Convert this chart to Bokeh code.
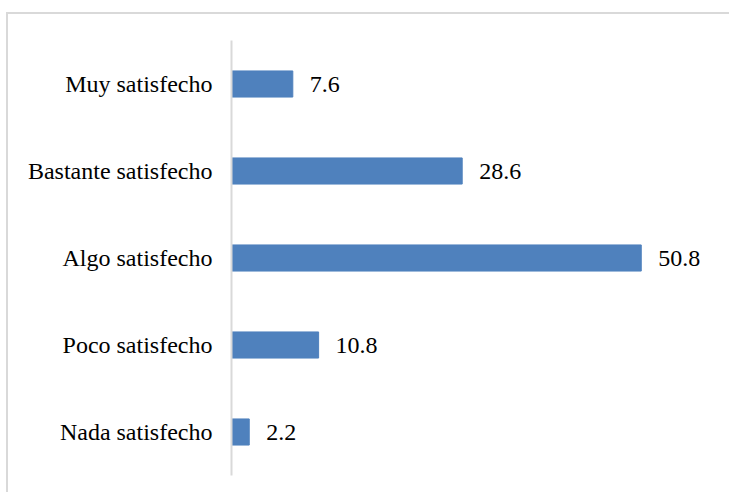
from bokeh.plotting import figure
from bokeh.models import ColumnDataSource, Range1d, FactorRange
from bokeh.core.properties import value
from bokeh.embed import file_html
from bokeh.resources import INLINE

categories = ["Muy satisfecho", "Bastante satisfecho", "Algo satisfecho", "Poco satisfecho", "Nada satisfecho"]
values = [7.6, 28.6, 50.8, 10.8, 2.2]
labels = ["7.6", "28.6", "50.8", "10.8", "2.2"]

src = ColumnDataSource(dict(cat=categories, val=values, lab=labels))

FONT = "'Liberation Serif', 'Times New Roman', Times, serif"

p = figure(width=723, height=480, output_backend="svg", toolbar_location=None,
           y_range=FactorRange(*categories[::-1]), x_range=Range1d(0, 60.5),
           min_border_left=223, min_border_top=26, min_border_bottom=19, min_border_right=12)
p.styles = {"border-top": "2px solid #d9d9d9", "border-left": "2px solid #d9d9d9",
            "margin-left": "6px", "margin-top": "12px"}

p.hbar(y="cat", right="val", left=0, height=0.3, source=src, color="#4F81BD")
p.text(x="val", y="cat", text="lab", source=src, x_offset=17, text_baseline="middle",
       text_font=value(FONT), text_font_size="24px", text_color="#000000")

p.xaxis.visible = False
p.xgrid.grid_line_color = None
p.ygrid.grid_line_color = None
p.outline_line_color = None
p.yaxis.major_tick_line_color = None
p.yaxis.minor_tick_line_color = None
p.yaxis.axis_line_color = "#d9d9d9"
p.yaxis.axis_line_width = 2
p.yaxis.major_label_text_font = FONT
p.yaxis.major_label_text_font_size = "24px"
p.yaxis.major_label_text_color = "#000000"
p.yaxis.major_label_standoff = 13

open("out.html", "w").write(file_html(p, INLINE))
